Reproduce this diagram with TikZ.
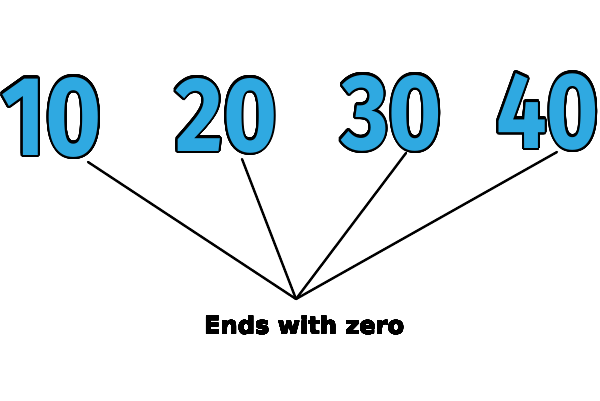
\documentclass[tikz,border=0pt]{standalone}
\usepackage{fontspec}
\usepackage{contour}
\setmainfont{Poppins}
\newfontfamily\numfont{Fira Sans}[Numbers=Proportional]
\newfontfamily\labelfont{DejaVu Sans}
\definecolor{numblue}{HTML}{2FA9E1}
\contourlength{2.1pt}
\contournumber{40}
\newcommand{\bignum}[3]{\resizebox{#1pt}{#2pt}{\textcolor{numblue}{\contour{black}{#3}}}}
\newcommand{\heavytext}[1]{{\contourlength{0.2pt}\contour{black}{#1}}}
\tikzset{
  num/.style={inner sep=0pt, anchor=base west, font=\numfont\fontsize{100}{100}\selectfont\bfseries},
  conn/.style={line width=2.4pt, line cap=round, black},
  lbl/.style={inner sep=0pt, anchor=base west, font=\labelfont\fontsize{23}{23}\selectfont\bfseries}
}
\begin{document}
\begin{tikzpicture}[x=1pt,y=-1pt]
\useasboundingbox (0,0) rectangle (600,400);
\node[num] (n10) at (1,155) {\bignum{101}{78}{10}};
\node[num] (n20) at (175,151) {\bignum{102}{73}{20}};
\node[num] (n30) at (341,149) {\bignum{101}{74}{30}};
\node[num] (n40) at (496,148) {\bignum{103}{75}{40}};
\node[lbl] (label) at (204,334) {\resizebox{200pt}{18pt}{\heavytext{Ends with zero}}};
\coordinate (apex) at (296,299);
\coordinate (s10) at (88,162);
\coordinate (s20) at (242,159);
\coordinate (s30) at (406,153);
\coordinate (s40) at (557,152);
\foreach \s in {s10,s20,s30,s40} \draw[conn] (\s) -- (apex);
\end{tikzpicture}
\end{document}
